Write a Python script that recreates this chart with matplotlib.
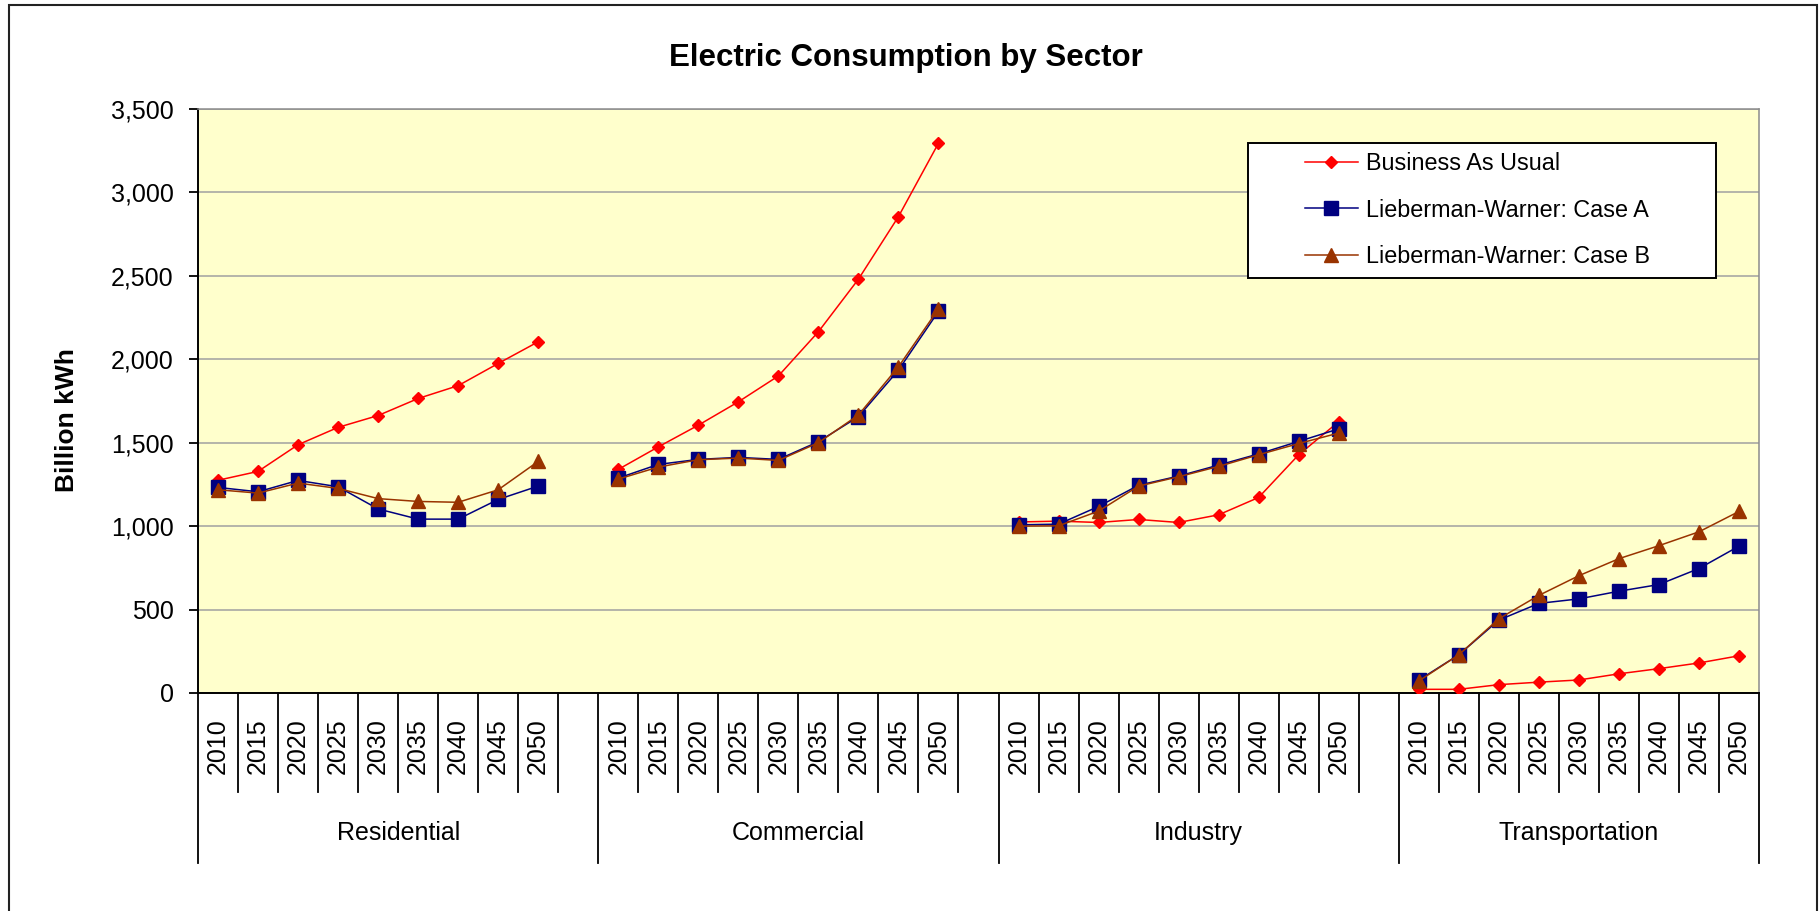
import numpy as np
import matplotlib
matplotlib.use('Agg')
import matplotlib.pyplot as plt
from matplotlib.patches import Rectangle
from matplotlib.lines import Line2D
from matplotlib.ticker import FuncFormatter, MultipleLocator
import matplotlib.transforms as mtransforms

plt.rcParams['font.family'] = ['Liberation Sans', 'DejaVu Sans']

# ---------------- data ----------------
sectors = ['Residential', 'Commercial', 'Industry', 'Transportation']
years = ['2010', '2015', '2020', '2025', '2030', '2035', '2040', '2045', '2050']
series_names = ['Business As Usual', 'Lieberman-Warner: Case A', 'Lieberman-Warner: Case B']

bau_residential = [1275, 1328, 1488, 1592, 1663, 1765, 1842, 1975, 2105]
bau_commercial = [1340, 1475, 1605, 1745, 1900, 2165, 2480, 2855, 3295]
bau_industry = [1025, 1030, 1022, 1040, 1022, 1068, 1172, 1428, 1626]
bau_transportation = [22, 22, 50, 65, 78, 115, 146, 180, 223]

case_a_residential = [1232, 1206, 1274, 1236, 1103, 1042, 1042, 1160, 1240]
case_a_commercial = [1288, 1370, 1400, 1412, 1400, 1506, 1656, 1935, 2287]
case_a_industry = [1008, 1012, 1118, 1245, 1300, 1366, 1433, 1508, 1583]
case_a_transportation = [77, 229, 437, 537, 564, 610, 650, 746, 880]

case_b_residential = [1218, 1198, 1258, 1226, 1165, 1148, 1143, 1218, 1388]
case_b_commercial = [1282, 1354, 1398, 1408, 1394, 1500, 1666, 1955, 2302]
case_b_industry = [1000, 1002, 1090, 1240, 1296, 1358, 1428, 1495, 1558]
case_b_transportation = [72, 229, 445, 585, 703, 805, 883, 966, 1088]


def join_groups(*groups):
    out = []
    for i, g in enumerate(groups):
        out.extend(g)
        if i < len(groups) - 1:
            out.append(np.nan)   # blank category between sectors
    return np.array(out, dtype=float)


bau = join_groups(bau_residential, bau_commercial, bau_industry, bau_transportation)
case_a = join_groups(case_a_residential, case_a_commercial, case_a_industry, case_a_transportation)
case_b = join_groups(case_b_residential, case_b_commercial, case_b_industry, case_b_transportation)

n_cat = len(bau)
xpos = np.arange(n_cat)
year_pos = [i for i in range(n_cat) if not np.isnan(bau[i])]
year_labels = years * len(sectors)

# ---------------- figure ----------------
W, H = 1819, 911
fig = plt.figure(figsize=(W / 100, H / 100), dpi=100)
fig.patch.set_facecolor('white')


def fx(px):
    return px / W


def fy(py):
    return (H - py) / H


# outer chart frame
fig.patches.append(Rectangle((fx(9), fy(913)), fx(1817) - fx(9), fy(5) - fy(913),
                             transform=fig.transFigure, fill=False,
                             edgecolor='#222222', linewidth=1.5, zorder=0))

ax_l, ax_r, ax_t, ax_b = 198, 1759, 109, 693
ax = fig.add_axes([fx(ax_l), fy(ax_b), fx(ax_r) - fx(ax_l), fy(ax_t) - fy(ax_b)])
ax.set_facecolor('#FFFFCC')

lw = 1.1
ax.plot(xpos, bau, color='#FF0000', lw=lw, marker='D', markersize=6.6,
        markerfacecolor='#FF0000', markeredgecolor='#FF0000', label=series_names[0], zorder=3)
ax.plot(xpos, case_a, color='#000080', lw=lw, marker='s', markersize=9.5,
        markerfacecolor='#000080', markeredgecolor='#000080', label=series_names[1], zorder=4)
ax.plot(xpos, case_b, color='#993300', lw=lw, marker='^', markersize=9.5,
        markerfacecolor='#993300', markeredgecolor='#993300', label=series_names[2], zorder=5)

ax.set_xlim(-0.5, n_cat - 0.5)
ax.set_ylim(0, 3500)
ax.yaxis.set_major_locator(MultipleLocator(500))
ax.yaxis.set_major_formatter(FuncFormatter(lambda v, p: f'{int(v):,}'))
ax.yaxis.grid(True, color='#A0A0A0', linewidth=1.1)
ax.set_axisbelow(True)

ax.tick_params(axis='y', direction='out', length=6.5, width=1.3, pad=11, labelsize=18,
               colors='black')
ax.set_xticks(year_pos)
ax.set_xticklabels(year_labels, rotation=90, fontsize=18)
ax.tick_params(axis='x', length=0, pad=18)

for s in ['top', 'right']:
    ax.spines[s].set_color('#8C8C8C')
    ax.spines[s].set_linewidth(1.1)
for s in ['left', 'bottom']:
    ax.spines[s].set_color('black')
    ax.spines[s].set_linewidth(1.4)

# category separators (multi-level axis)
btrans = mtransforms.blended_transform_factory(ax.transData, fig.transFigure)
group_bounds = [-0.5]
k = -0.5
for g in range(len(sectors)):
    k += len(years) + (1 if g < len(sectors) - 1 else 0)
    group_bounds.append(k)
for b in np.arange(-0.5, n_cat, 1.0):
    is_group = any(abs(b - gb) < 1e-9 for gb in group_bounds)
    y_end = 863 if is_group else 792
    ax.add_line(Line2D([b, b], [fy(ax_b), fy(y_end)], transform=btrans, color='black',
                       lw=1.3, clip_on=False))

for g, name in enumerate(sectors):
    center = (group_bounds[g] + group_bounds[g + 1]) / 2
    ax.text(center, fy(833), name, transform=btrans, ha='center', va='center', fontsize=18)

# titles
fig.text(fx(906), fy(58), 'Electric Consumption by Sector', ha='center', va='center',
         fontsize=22.5, fontweight='bold')
fig.text(fx(67), fy(420), 'Billion kWh', ha='center', va='center', rotation=90,
         fontsize=19, fontweight='bold')

# legend box + legend
fig.patches.append(Rectangle((fx(1248), fy(278)), fx(1716) - fx(1248), fy(143) - fy(278),
                             transform=fig.transFigure, facecolor='white',
                             edgecolor='black', linewidth=1.4, zorder=5))
handles, labels = ax.get_legend_handles_labels()
leg = fig.legend(handles, labels, loc='center left', bbox_to_anchor=(fx(1305), fy(210)),
                 bbox_transform=fig.transFigure, frameon=False, borderpad=0,
                 borderaxespad=0, handlelength=2.25, handletextpad=0.35,
                 labelspacing=1.0, fontsize=16.8)
leg.set_zorder(6)

fig.savefig('out.png', dpi=100)
